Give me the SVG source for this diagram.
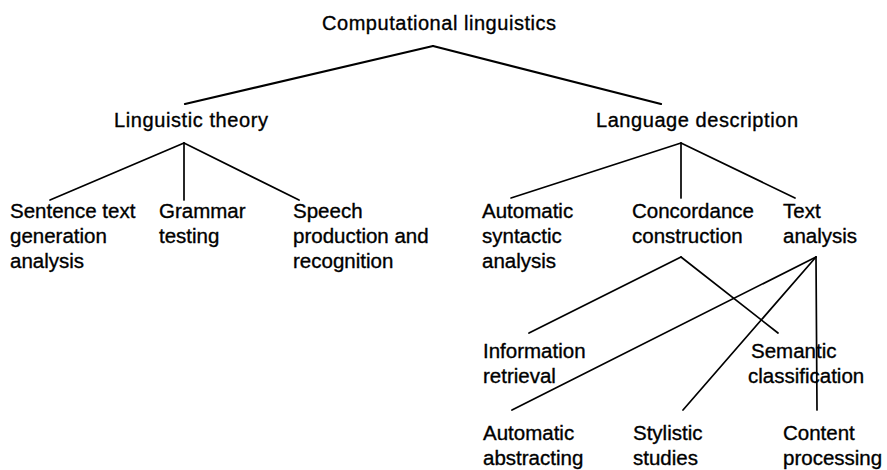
<svg xmlns="http://www.w3.org/2000/svg" width="887" height="470" viewBox="0 0 887 470">
<style>
text{font-family:"Liberation Sans",Arial,sans-serif;font-size:20.5px;fill:#000;stroke:#000;stroke-width:0.35}
.h{font-size:20px}
.c line{stroke:#000;stroke-width:1.7;stroke-linecap:round}
</style>
<rect width="887" height="470" fill="#fff"/>
<g class="c" id="connectors">
<line x1="433" y1="46" x2="185" y2="104" style="stroke-width:2.2"/>
<line x1="433" y1="46" x2="661" y2="104" style="stroke-width:2.2"/>
<line x1="184" y1="143" x2="50" y2="200"/>
<line x1="184" y1="143" x2="184" y2="200"/>
<line x1="184" y1="143" x2="299" y2="200"/>
<line x1="681" y1="143" x2="511" y2="198"/>
<line x1="681" y1="143" x2="681" y2="198"/>
<line x1="681" y1="143" x2="795" y2="198"/>
<line x1="681" y1="257" x2="529" y2="333"/>
<line x1="681" y1="257" x2="778" y2="333"/>
<line x1="816" y1="257" x2="512" y2="410"/>
<line x1="816" y1="257" x2="683" y2="410"/>
<line x1="816" y1="257" x2="817" y2="410"/>
</g>
<g id="n-root"><text class="h" x="439" y="30" text-anchor="middle" textLength="234">Computational linguistics</text></g>
<g id="n-theory"><text class="h" x="114" y="127" textLength="154">Linguistic theory</text></g>
<g id="n-description"><text class="h" x="596" y="127" textLength="202">Language description</text></g>
<g id="n-sentence"><text x="10" y="218">Sentence text</text><text x="10" y="243">generation</text><text x="10" y="268">analysis</text></g>
<g id="n-grammar"><text x="159" y="218">Grammar</text><text x="159" y="243">testing</text></g>
<g id="n-speech"><text x="293" y="218">Speech</text><text x="293" y="243">production and</text><text x="293" y="268">recognition</text></g>
<g id="n-syntactic"><text x="482" y="218">Automatic</text><text x="482" y="243">syntactic</text><text x="482" y="268">analysis</text></g>
<g id="n-concordance"><text x="632" y="218">Concordance</text><text x="632" y="243">construction</text></g>
<g id="n-text"><text x="783" y="218">Text</text><text x="783" y="243">analysis</text></g>
<g id="n-information"><text x="483" y="358">Information</text><text x="483" y="383">retrieval</text></g>
<g id="n-semantic"><text x="751" y="358">Semantic</text><text x="748" y="383">classification</text></g>
<g id="n-abstracting"><text x="483" y="440">Automatic</text><text x="483" y="465">abstracting</text></g>
<g id="n-stylistic"><text x="633" y="440">Stylistic</text><text x="633" y="465">studies</text></g>
<g id="n-content"><text x="783" y="440">Content</text><text x="783" y="465">processing</text></g>
</svg>
